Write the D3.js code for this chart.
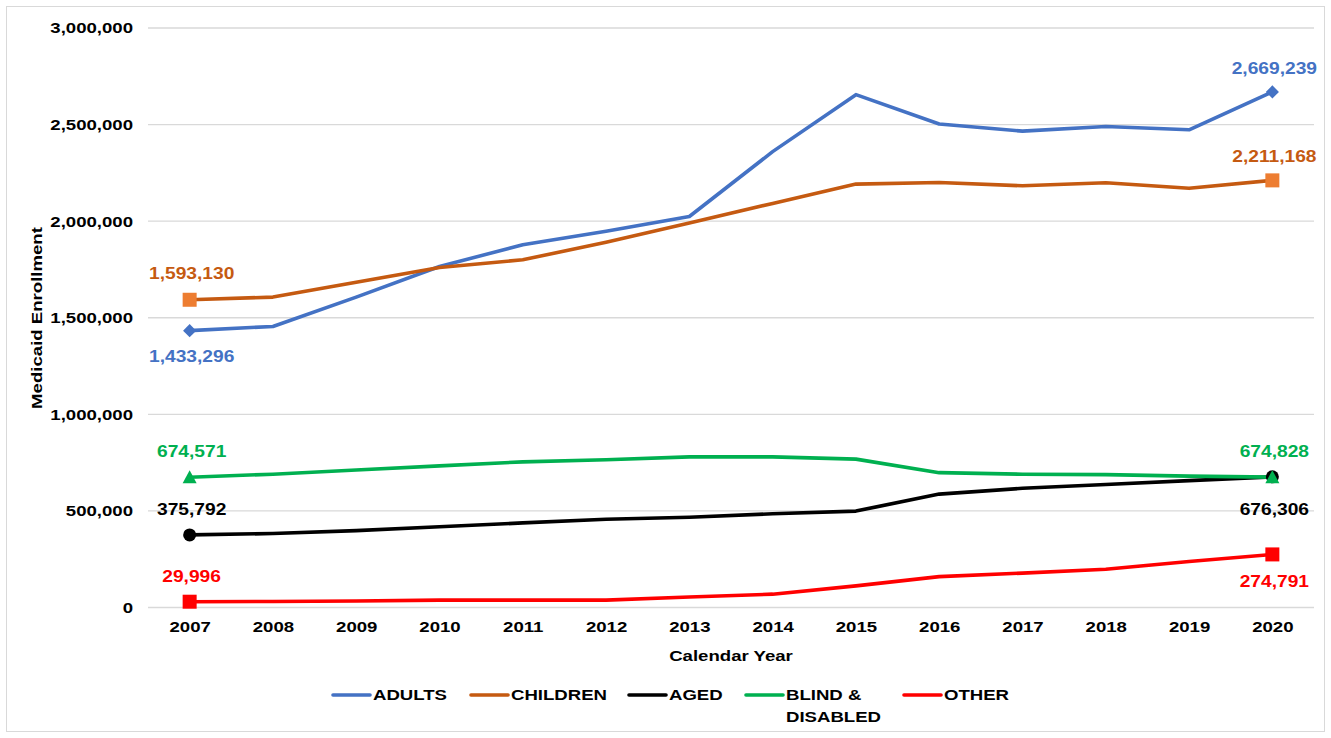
<!DOCTYPE html>
<html><head><meta charset="utf-8">
<script src="https://cdn.jsdelivr.net/npm/d3@7"></script>
<style>body{margin:0;background:#fff;font-family:"Liberation Sans",Arial,sans-serif;}</style>
</head><body>
<svg id="chart" width="1331" height="738"></svg>
<script>
const years = ["2007","2008","2009","2010","2011","2012","2013","2014","2015","2016","2017","2018","2019","2020"];
const adults   = [1433296,1455000,1607000,1765000,1878000,1948000,2024000,2360000,2655000,2503000,2466000,2490000,2473000,2669239];
const children = [1593130,1607000,1684000,1760000,1800000,1891000,1990000,2092000,2192000,2200000,2183000,2199000,2170000,2211168];
const aged     = [375792,383000,398000,418000,438000,457000,467000,485000,499000,587000,617000,637000,657000,676306];
const blind    = [674571,690000,712000,733000,754000,765000,780000,780000,768000,698000,690000,688000,680000,674828];
const other    = [29996,31000,34000,38000,38000,38000,54000,69000,112000,160000,178000,198000,238000,274791];
const yTicks = [0,500000,1000000,1500000,2000000,2500000,3000000];
const seriesNames = ["ADULTS","CHILDREN","AGED","BLIND & DISABLED","OTHER"];

const series = [
  {name:"ADULTS", values:adults, color:"#4472C4", mColor:"#4472C4", marker:"diamond",
   labels:[{i:0,dy:26},{i:13,dy:-23}]},
  {name:"CHILDREN", values:children, color:"#C55A11", mColor:"#ED7D31", marker:"square",
   labels:[{i:0,dy:-26},{i:13,dy:-24}]},
  {name:"AGED", values:aged, color:"#000000", mColor:"#000000", marker:"circle",
   labels:[{i:0,dy:-25},{i:13,dy:33}]},
  {name:"BLIND & DISABLED", values:blind, color:"#00B050", mColor:"#00B050", marker:"triangle",
   labels:[{i:0,dy:-26},{i:13,dy:-26}]},
  {name:"OTHER", values:other, color:"#FF0000", mColor:"#FF0000", marker:"square",
   labels:[{i:0,dy:-25},{i:13,dy:27}]}
];

const SX = 1.2;
function stretch(sel){
  sel.each(function(){
    const t = d3.select(this);
    const tx = +t.attr("x") || 0, ty = +t.attr("y") || 0;
    t.attr("transform", `translate(${tx},${ty}) scale(${SX},1) translate(${-tx},${-ty})`);
  });
}

const svg = d3.select("#chart");
svg.append("rect").attr("x",6.5).attr("y",6.5).attr("width",1318).attr("height",725)
  .attr("fill","none").attr("stroke","#d9d9d9");

const x = d3.scalePoint().domain(years).range([148,1314]).padding(0.5);
const y = d3.scaleLinear().domain([0,3000000]).range([607.5,28]);
const fmt = d3.format(",");

// gridlines
svg.append("g").selectAll("line").data(yTicks).join("line")
  .attr("x1",148).attr("x2",1314).attr("y1",d=>y(d)).attr("y2",d=>y(d))
  .attr("stroke","#d9d9d9").attr("stroke-width",1.3);

// y axis
const yAxis = svg.append("g").attr("transform","translate(148,0)")
  .call(d3.axisLeft(y).tickValues(yTicks).tickFormat(fmt).tickSize(0).tickPadding(15));
yAxis.select(".domain").remove();
yAxis.selectAll("text").attr("font-family","Liberation Sans, Arial, sans-serif")
  .attr("font-size",15.5).attr("font-weight","bold").attr("fill","#000").call(stretch);

// x axis
const xAxis = svg.append("g").attr("transform","translate(0,607.5)")
  .call(d3.axisBottom(x).tickSize(0).tickPadding(14));
xAxis.select(".domain").remove();
xAxis.selectAll("text").attr("font-family","Liberation Sans, Arial, sans-serif")
  .attr("font-size",15.5).attr("font-weight","bold").attr("fill","#000").call(stretch);

// axis titles
svg.append("text").attr("x",731).attr("y",661).attr("text-anchor","middle")
  .attr("font-size",15.5).attr("font-weight","bold").text("Calendar Year").call(stretch);
svg.append("text").attr("transform",`translate(42,318) rotate(-90) scale(${SX},1)`).attr("text-anchor","middle")
  .attr("font-size",15.5).attr("font-weight","bold").text("Medicaid Enrollment");

const line = d3.line().x((d,i)=>x(years[i])).y(d=>y(d));

series.forEach(s=>{
  svg.append("path").datum(s.values).attr("d",line).attr("fill","none")
    .attr("stroke",s.color).attr("stroke-width",3.6).attr("stroke-linejoin","round");
});

function drawMarker(g, type, cx, cy, color){
  if(type==="diamond"){
    g.append("path").attr("d",d3.symbol(d3.symbolDiamond2,110)()).attr("transform",`translate(${cx},${cy})`).attr("fill",color);
  } else if(type==="square"){
    g.append("rect").attr("x",cx-7).attr("y",cy-7).attr("width",14).attr("height",14).attr("fill",color);
  } else if(type==="circle"){
    g.append("circle").attr("cx",cx).attr("cy",cy).attr("r",6.5).attr("fill",color);
  } else if(type==="triangle"){
    g.append("path").attr("d",`M${cx},${cy-7}L${cx+7},${cy+6}L${cx-7},${cy+6}Z`).attr("fill",color);
  }
}

series.forEach(s=>{
  const g = svg.append("g");
  s.labels.forEach(l=>{
    drawMarker(g, s.marker, x(years[l.i]), y(s.values[l.i]), s.mColor);
  });
});

series.forEach(s=>{
  s.labels.forEach(l=>{
    svg.append("text").attr("x",x(years[l.i])+2).attr("y",y(s.values[l.i])+l.dy+5.5)
      .attr("text-anchor","middle")
      .attr("font-size",16).attr("font-weight","bold").attr("fill",s.color)
      .text(fmt(s.values[l.i])).call(stretch);
  });
});

// legend
const legendX = [333,471,629,746,904];
const leg = svg.append("g");
series.forEach((s,i)=>{
  const lx = legendX[i];
  leg.append("line").attr("x1",lx).attr("x2",lx+37).attr("y1",695).attr("y2",695)
    .attr("stroke",s.color).attr("stroke-width",3.6).attr("stroke-linecap","round");
  const t = leg.append("text").attr("x",lx+40).attr("y",700.5)
    .attr("font-size",15.5).attr("font-weight","bold").attr("fill","#000");
  if(s.name==="BLIND & DISABLED"){
    t.append("tspan").attr("x",lx+40).text("BLIND &");
    t.append("tspan").attr("x",lx+40).attr("dy",22).text("DISABLED");
  } else t.text(s.name);
  t.call(stretch);
});
</script>
</body></html>
